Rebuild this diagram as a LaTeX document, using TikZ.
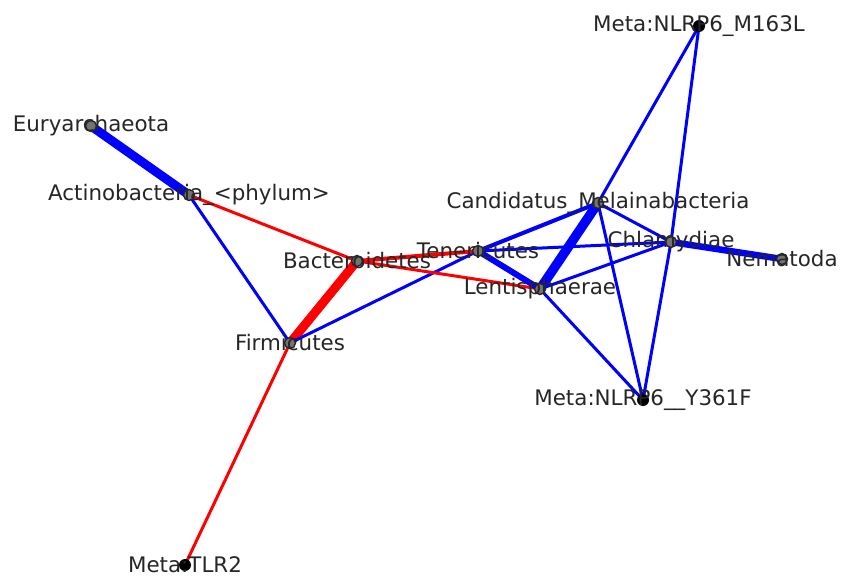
\documentclass[tikz,border=0pt]{standalone}
\usepackage{fontspec}
\setmainfont{DejaVu Sans}
\usetikzlibrary{positioning}

\begin{document}
\begin{tikzpicture}[
    x=1pt, y=-1pt, % one unit per pixel, y running down
    taxon/.style={circle, draw=black!85, fill=black!55, line width=1.4pt, inner sep=0pt, minimum size=11pt}, % phylum nodes
    meta/.style={circle, fill=black, inner sep=0pt, minimum size=12pt}, % metadata nodes
    tag/.style={text=black!85, inner sep=0pt, font=\fontsize{21.4}{25}\selectfont}, % node labels
    pos/.style={blue, line width=#1}, pos/.default=3pt, % positive correlation
    neg/.style={red, line width=#1}, neg/.default=3pt % negative correlation
]
    \useasboundingbox (0,0) rectangle (842,577);

    % --- Node positions ---
    \coordinate (eury) at (91,126);
    \coordinate (actino) at (189,195);
    \coordinate (bactero) at (357,261);
    \coordinate (firmi) at (290,343);
    \coordinate (tlr) at (185,565);
    \coordinate (teneri) at (478,251);
    \coordinate (lentis) at (540,289);
    \coordinate (candid) at (598,203);
    \coordinate (chlamy) at (671,242);
    \coordinate (nemato) at (782,259);
    \coordinate (mlow) at (699,26);
    \coordinate (yhigh) at (643,400);

    % --- Edges ---
    \draw[pos=9pt] (eury) -- (actino);
    \draw[neg] (actino) -- (bactero);
    \draw[pos] (actino) -- (firmi);
    \draw[neg=9pt] (bactero) -- (firmi);
    \draw[neg] (firmi) -- (tlr);
    \draw[pos] (firmi) -- (teneri);
    \draw[neg=4pt] (bactero) -- (teneri);
    \draw[neg] (bactero) -- (lentis);
    \draw[pos=6pt] (teneri) -- (lentis);
    \draw[pos=4pt] (teneri) -- (candid);
    \draw[pos] (teneri) -- (chlamy);
    \draw[pos=9.5pt] (lentis) -- (candid);
    \draw[pos] (lentis) -- (chlamy);
    \draw[pos] (lentis) -- (yhigh);
    \draw[pos] (candid) -- (chlamy);
    \draw[pos] (candid) -- (mlow);
    \draw[pos] (candid) -- (yhigh);
    \draw[pos] (chlamy) -- (mlow);
    \draw[pos] (chlamy) -- (yhigh);
    \draw[pos=6.5pt] (chlamy) -- (nemato);

    % --- Nodes ---
    \foreach \n in {eury, actino, bactero, firmi, teneri, lentis, candid, chlamy, nemato}
        \node[taxon] (\n-dot) at (\n) {};
    \foreach \n in {tlr, mlow, yhigh}
        \node[meta] (\n-dot) at (\n) {};

    % --- Labels ---
    \node[tag] (eury-lbl) at (eury) {Euryarchaeota};
    \node[tag] (actino-lbl) at (actino) {Actinobacteria\_<phylum>};
    \node[tag] (bactero-lbl) at (bactero) {Bacteroidetes};
    \node[tag] (firmi-lbl) at (firmi) {Firmicutes};
    \node[tag] (tlr-lbl) at (tlr) {Meta:TLR2};
    \node[tag] (teneri-lbl) at (teneri) {Tenericutes};
    \node[tag] (lentis-lbl) at (lentis) {Lentisphaerae};
    \node[tag] (candid-lbl) at (candid) {Candidatus\_Melainabacteria};
    \node[tag] (chlamy-lbl) at (chlamy) {Chlamydiae};
    \node[tag] (nemato-lbl) at (nemato) {Nematoda};
    \node[tag] (mlow-lbl) at (mlow) {Meta:NLRP6\_M163L};
    \node[tag] (yhigh-lbl) at (yhigh) {Meta:NLRP6\_\_Y361F};
\end{tikzpicture}
\end{document}
